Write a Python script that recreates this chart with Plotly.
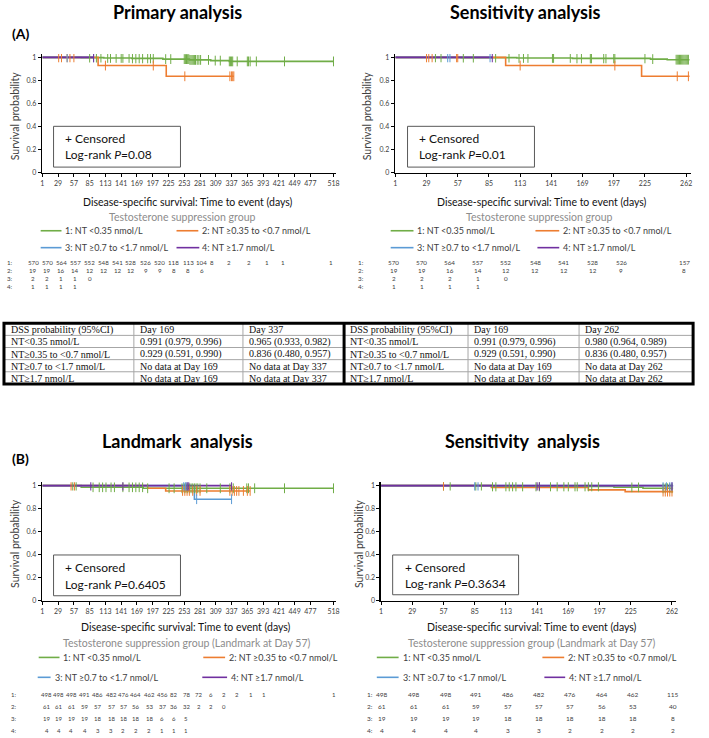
import plotly.graph_objects as go

W, H = 709, 738

# ---------------- DATA ----------------
x_ticks_long = [1, 29, 57, 85, 113, 141, 169, 197, 225, 253, 281, 309, 337, 365, 393, 421, 449, 477, 518]
x_ticks_short = [1, 29, 57, 85, 113, 141, 169, 197, 225, 262]
y_ticks = [0, 0.2, 0.4, 0.6, 0.8, 1]
y_tick_text = ["0", "0.2", "0.4", "0.6", "0.8", "1"]

group_names = ["1: NT <0.35 nmol/L", "2: NT \u22650.35 to <0.7 nmol/L",
               "3: NT \u22650.7 to <1.7 nmol/L", "4: NT \u22651.7 nmol/L"]
group_colors = ["#70AD47", "#ED7D31", "#5B9BD5", "#7030A0"]

# Panel (A) Primary analysis  - event times, survival after event, last follow-up, censor times
a1_g1_events = [70, 110, 160, 215, 262, 300, 333]
a1_g1_surv = [0.998, 0.995, 0.991, 0.985, 0.978, 0.972, 0.965]
a1_g1_end = 518
a1_g1_cens = [85, 97, 105, 117, 122, 132, 141, 144, 155, 161, 167, 173, 179, 188, 193, 198, 220, 229,
              253, 255, 257, 259, 261, 263, 265, 267, 269, 271, 273, 276, 279, 282, 296, 308, 317,
              333, 335, 337, 339, 347, 365, 367, 370, 381, 431, 518]
a1_g2_events = [100, 221]
a1_g2_surv = [0.929, 0.836]
a1_g2_end = 341
a1_g2_cens = [30, 35, 45, 50, 57, 113, 198, 254, 334, 337, 339, 341]
a1_g3_events = []
a1_g3_surv = []
a1_g3_end = 92
a1_g3_cens = [45, 92]
a1_g4_events = []
a1_g4_surv = []
a1_g4_end = 92
a1_g4_cens = [92]

# Panel (A) Sensitivity analysis
a2_g1_events = [60, 110, 160, 230, 245]
a2_g1_surv = [0.998, 0.995, 0.991, 0.985, 0.980]
a2_g1_end = 265
a2_g1_cens = [37, 42, 62, 71, 91, 103, 112, 116, 120, 142, 143, 158, 164, 168, 176, 177, 188, 190,
              197, 198, 225, 232, 253, 254, 255, 256, 257, 258, 259, 260, 261, 262, 263, 264]
a2_g2_events = [100, 222]
a2_g2_surv = [0.929, 0.836]
a2_g2_end = 265
a2_g2_cens = [29, 31, 34, 56, 57, 113, 198, 254, 264]
a2_g3_events = []
a2_g3_surv = []
a2_g3_end = 88
a2_g3_cens = [48, 50, 86]
a2_g4_events = []
a2_g4_surv = []
a2_g4_end = 88
a2_g4_cens = [88]

# Panel (B) Landmark analysis
b1_g1_events = [70, 180]
b1_g1_surv = [0.986, 0.977]
b1_g1_end = 518
b1_g1_cens = [55, 61, 91, 102, 108, 114, 123, 129, 144, 155, 161, 167, 173, 179, 188, 226, 235,
              249, 253, 256, 259, 262, 265, 268, 271, 274, 277, 281, 293, 317, 334, 340, 364, 367,
              378, 431, 518]
b1_g2_events = [188, 220]
b1_g2_surv = [0.977, 0.954]
b1_g2_end = 370
b1_g2_cens = [52, 58, 250, 254, 258, 262, 268, 275, 281, 334, 338, 342, 346, 350, 358, 365, 370]
b1_g3_events = [271]
b1_g3_surv = [0.882]
b1_g3_end = 337
b1_g3_cens = [252, 255, 258, 275, 337]
b1_g4_events = []
b1_g4_surv = []
b1_g4_end = 337
b1_g4_cens = [87, 144, 258, 261, 337]

# Panel (B) Sensitivity analysis
b2_g1_events = [100, 210, 236]
b2_g1_surv = [0.993, 0.986, 0.977]
b2_g1_end = 263
b2_g1_cens = [57, 63, 86, 91, 101, 104, 113, 116, 119, 122, 128, 140, 143, 153, 159, 165, 169, 175,
              177, 184, 187, 190, 196, 226, 232, 254, 256, 258, 260, 262]
b2_g2_events = [100, 187, 220]
b2_g2_surv = [0.984, 0.963, 0.948]
b2_g2_end = 263
b2_g2_cens = [57, 254, 256, 258, 260, 262]
b2_g3_events = []
b2_g3_surv = []
b2_g3_end = 263
b2_g3_cens = [85, 88, 254, 257, 260, 262]
b2_g4_events = []
b2_g4_surv = []
b2_g4_end = 263
b2_g4_cens = [141, 143, 262]

# Numbers at risk
a1_risk = [[570, 570, 564, 557, 552, 548, 541, 528, 526, 520, 118, 113, 104, 8, 2, 2, 1, 1, 1],
           [19, 19, 16, 14, 12, 12, 12, 12, 9, 9, 8, 8, 6],
           [2, 2, 1, 1, 0],
           [1, 1, 1, 1]]
a2_risk = [[570, 570, 564, 557, 552, 548, 541, 528, 526, 157],
           [19, 19, 16, 14, 12, 12, 12, 12, 9, 8],
           [2, 2, 2, 1, 0],
           [1, 1, 1, 1]]
b1_risk = [[498, 498, 498, 491, 486, 482, 476, 464, 462, 456, 82, 78, 72, 6, 2, 2, 1, 1, 1],
           [61, 61, 61, 59, 57, 57, 57, 56, 53, 37, 36, 32, 2, 2, 0],
           [19, 19, 19, 19, 18, 18, 18, 18, 18, 6, 6, 5],
           [4, 4, 4, 4, 3, 3, 2, 2, 2, 1, 1, 1]]
b2_risk = [[498, 498, 498, 491, 486, 482, 476, 464, 462, 115],
           [61, 61, 61, 59, 57, 57, 57, 56, 53, 40],
           [19, 19, 19, 19, 18, 18, 18, 18, 18, 8],
           [4, 4, 4, 4, 3, 3, 2, 2, 2, 2]]

# DSS probability tables
dss_row_labels = ["NT<0.35 nmol/L", "NT\u22650.35 to <0.7 nmol/L", "NT\u22650.7 to <1.7 nmol/L", "NT\u22651.7 nmol/L"]
dss_header_primary = ["DSS probability (95%CI)", "Day 169", "Day 337"]
dss_primary_d169 = ["0.991 (0.979, 0.996)", "0.929 (0.591, 0.990)", "No data at Day 169", "No data at Day 169"]
dss_primary_d337 = ["0.965 (0.933, 0.982)", "0.836 (0.480, 0.957)", "No data at Day 337", "No data at Day 337"]
dss_header_sens = ["DSS probability (95%CI)", "Day 169", "Day 262"]
dss_sens_d169 = ["0.991 (0.979, 0.996)", "0.929 (0.591, 0.990)", "No data at Day 169", "No data at Day 169"]
dss_sens_d262 = ["0.980 (0.964, 0.989)", "0.836 (0.480, 0.957)", "No data at Day 262", "No data at Day 262"]

# ---------------- LAYOUT HELPERS ----------------
def px(x):
    return x / W


def py(y):
    return 1 - y / H


FONT = "Lato"
DARK = "#404040"

fig = go.Figure()

panels = [
    dict(ax="", groups=[(a1_g1_events, a1_g1_surv, a1_g1_end, a1_g1_cens),
                        (a1_g2_events, a1_g2_surv, a1_g2_end, a1_g2_cens),
                        (a1_g3_events, a1_g3_surv, a1_g3_end, a1_g3_cens),
                        (a1_g4_events, a1_g4_surv, a1_g4_end, a1_g4_cens)],
         xpx=(40.7, 336.6), xr=[1, 522], ypx=(172.7, 53.2), ticks=x_ticks_long),
    dict(ax="2", groups=[(a2_g1_events, a2_g1_surv, a2_g1_end, a2_g1_cens),
                         (a2_g2_events, a2_g2_surv, a2_g2_end, a2_g2_cens),
                         (a2_g3_events, a2_g3_surv, a2_g3_end, a2_g3_cens),
                         (a2_g4_events, a2_g4_surv, a2_g4_end, a2_g4_cens)],
         xpx=(396.7, 694.5), xr=[1, 266], ypx=(172.7, 53.2), ticks=x_ticks_short),
    dict(ax="3", groups=[(b1_g1_events, b1_g1_surv, b1_g1_end, b1_g1_cens),
                         (b1_g2_events, b1_g2_surv, b1_g2_end, b1_g2_cens),
                         (b1_g3_events, b1_g3_surv, b1_g3_end, b1_g3_cens),
                         (b1_g4_events, b1_g4_surv, b1_g4_end, b1_g4_cens)],
         xpx=(40.7, 336.6), xr=[1, 522], ypx=(603.0, 483.8), ticks=x_ticks_long),
    dict(ax="4", groups=[(b2_g1_events, b2_g1_surv, b2_g1_end, b2_g1_cens),
                         (b2_g2_events, b2_g2_surv, b2_g2_end, b2_g2_cens),
                         (b2_g3_events, b2_g3_surv, b2_g3_end, b2_g3_cens),
                         (b2_g4_events, b2_g4_surv, b2_g4_end, b2_g4_cens)],
         xpx=(382.3, 680.2), xr=[1, 266], ypx=(603.0, 483.8), ticks=x_ticks_short),
]


def surv_at(t, events, surv):
    s = 1.0
    for et, sv in zip(events, surv):
        if et <= t:
            s = sv
    return s


layout_axes = {}
for p in panels:
    xa, ya = "x" + p["ax"], "y" + p["ax"]
    for gi, (ev, sv, end, cens) in enumerate(p["groups"]):
        xs = [1] + list(ev) + [end]
        ys = [1] + list(sv) + [sv[-1] if sv else 1]
        fig.add_trace(go.Scatter(x=xs, y=ys, mode="lines", line=dict(color=group_colors[gi], width=1.6, shape="hv"),
                                 xaxis=xa, yaxis=ya, hoverinfo="skip", showlegend=False))
    for gi, (ev, sv, end, cens) in enumerate(p["groups"]):
        fig.add_trace(go.Scatter(x=cens, y=[surv_at(t, ev, sv) for t in cens], mode="markers",
                                 marker=dict(symbol="line-ns", size=7, color=group_colors[gi],
                                             line=dict(color=group_colors[gi], width=1)),
                                 xaxis=xa, yaxis=ya, hoverinfo="skip", showlegend=False))
    layout_axes["xaxis" + p["ax"]] = dict(
        domain=[px(p["xpx"][0]), px(p["xpx"][1])], range=p["xr"], anchor=ya,
        tickvals=p["ticks"], ticktext=[str(t) for t in p["ticks"]],
        showline=True, linecolor="#000", linewidth=1.6, ticks="outside", ticklen=3, tickcolor="#000",
        tickfont=dict(family=FONT, size=7, color=DARK), showgrid=False, zeroline=False, fixedrange=True)
    layout_axes["yaxis" + p["ax"]] = dict(
        domain=[py(p["ypx"][0]), py(p["ypx"][1])], range=[0, 1.03], anchor=xa,
        tickvals=y_ticks, ticktext=y_tick_text,
        showline=True, linecolor="#000", linewidth=1.6, ticks="outside", ticklen=3, tickcolor="#000",
        tickfont=dict(family=FONT, size=7, color=DARK), showgrid=False, zeroline=False, fixedrange=True)

shapes = []
annotations = []


def ann(text, x, y, size, color="#000", xanchor="center", bold=False, family=FONT, angle=0):
    annotations.append(dict(text=("<b>%s</b>" % text) if bold else text, x=px(x), y=py(y),
                            xref="paper", yref="paper", xanchor=xanchor, yanchor="middle",
                            showarrow=False, textangle=angle, font=dict(family=family, size=size, color=color)))


def hline(x0, x1, y, color, width):
    shapes.append(dict(type="line", xref="paper", yref="paper", x0=px(x0), x1=px(x1), y0=py(y), y1=py(y),
                       line=dict(color=color, width=width)))


def vline(x, y0, y1, color, width):
    shapes.append(dict(type="line", xref="paper", yref="paper", x0=px(x), x1=px(x), y0=py(y0), y1=py(y1),
                       line=dict(color=color, width=width)))


# ---------------- DSS TABLES (built from the table lists) ----------------
TBL_TOP, TBL_BOT = 324, 385
row_h = (TBL_BOT - TBL_TOP) / 5
GRID = "#a6a6a6"
for hdr, c2, c3, cols in [
        (dss_header_primary, dss_primary_d169, dss_primary_d337, [3, 133, 243, 345]),
        (dss_header_sens, dss_sens_d169, dss_sens_d262, [345, 470, 582, 696])]:
    table_cols = [[hdr[0]] + dss_row_labels, [hdr[1]] + c2, [hdr[2]] + c3]
    for r in range(1, 5):
        hline(cols[0], cols[3], TBL_TOP + r * row_h, GRID, 1)
    for c in (cols[1], cols[2]):
        vline(c, TBL_TOP, TBL_BOT, GRID, 1)
    for ci, col in enumerate(table_cols):
        for ri, txt in enumerate(col):
            ann(txt, cols[ci] + 4, TBL_TOP + (ri + 0.5) * row_h + 0.5, 10, "#111", xanchor="left",
                family="Liberation Serif")

shapes.append(dict(type="rect", xref="paper", yref="paper", x0=px(2), x1=px(697), y0=py(TBL_TOP), y1=py(TBL_BOT),
                   line=dict(color="#000", width=3)))
vline(345, TBL_TOP, TBL_BOT, "#000", 3)

# Panel texts
panel_text = [
    dict(title="Primary analysis", tx=177, ty=11, ytx=13, yty=115, xtx=188, xty=202,
         grp="Testosterone suppression group", gx=182, gy=217,
         leg=[(39, 60, 62, 231), (176, 198, 200, 231), (39, 60, 62, 248), (176, 199, 200, 248)],
         rlab=3, rx=[31.7, 45.7, 60, 74, 88.7, 102.7, 116.7, 129.7, 145, 159, 173, 187.7, 201.7,
                     212, 229, 249, 267, 283, 332],
         ry=[263, 271, 279, 287], risk=a1_risk, rfs=6.2, box=(52, 180, 126, 167), boxtx=62, boxty=(138, 154),
         p="0.08"),
    dict(title="Sensitivity analysis", tx=528, ty=11, ytx=368, yty=115, xtx=545, xty=202,
         grp="Testosterone suppression group", gx=542, gy=217,
         leg=[(392, 415, 417, 231), (538, 562, 564, 231), (392, 415, 417, 248), (540, 562, 564, 248)],
         rlab=357, rx=[395, 423.3, 451.7, 480, 508.3, 537.7, 566.7, 595.7, 624.3, 688.3],
         ry=[263, 271, 279, 287], risk=a2_risk, rfs=6.3, box=(409, 537, 126, 167), boxtx=419, boxty=(138, 154),
         p="0.01"),
    dict(title="Landmark\u00a0 analysis", tx=177, ty=442, ytx=13, yty=545, xtx=186, xty=629,
         grp="Testosterone suppression group (Landmark at Day 57)", gx=186, gy=646,
         leg=[(37, 58, 60, 660), (203, 225, 227, 660), (36, 49, 51, 680), (202, 227, 229, 680)],
         rlab=7, rx=[45, 57.3, 70, 83.3, 96.7, 110, 122.3, 135, 148.3, 161.7, 173.3, 186, 198.3, 211,
                     224, 237.3, 250.7, 264, 335],
         ry=[697, 709, 721, 733], risk=b1_risk, rfs=6.0, box=(52, 180, 557, 598), boxtx=62, boxty=(570, 587),
         p="0.6405"),
    dict(title="Sensitivity\u00a0 analysis", tx=525, ty=442, ytx=360, yty=545, xtx=535, xty=629,
         grp="Testosterone suppression group (Landmark at Day 57)", gx=534, gy=646,
         leg=[(378, 400, 402, 660), (545, 567, 569, 660), (378, 400, 402, 680), (547, 568, 570, 680)],
         rlab=366, rx=[383.3, 416, 447.7, 477.7, 510, 541.7, 573.3, 605, 636.7, 676.7],
         ry=[697, 709, 721, 733], risk=b2_risk, rfs=6.5, box=(394, 521, 557, 597), boxtx=404, boxty=(570, 586),
         p="0.3634"),
]

for t in panel_text:
    ann(t["title"], t["tx"], t["ty"], 18, "#000", bold=True)
    ann("Survival probability", t["ytx"], t["yty"], 10.5, DARK, angle=-90)
    ann("Disease-specific survival: Time to event (days)", t["xtx"], t["xty"], 10.5, "#111")
    ann(t["grp"], t["gx"], t["gy"], 10.5, "#8c8c8c")
    for gi, (lx0, lx1, tx, ly) in enumerate(t["leg"]):
        hline(lx0, lx1, ly, group_colors[gi], 1.6)
        ann(group_names[gi], tx, ly, 9, DARK, xanchor="left")
    for gi, row in enumerate(t["risk"]):
        ann("%d:" % (gi + 1), t["rlab"], t["ry"][gi], t["rfs"], DARK, xanchor="left")
        for j, v in enumerate(row):
            ann(str(v), t["rx"][j], t["ry"][gi], t["rfs"], DARK)
    bx0, bx1, by0, by1 = t["box"]
    shapes.append(dict(type="rect", xref="paper", yref="paper", x0=px(bx0), x1=px(bx1), y0=py(by1), y1=py(by0),
                       line=dict(color="#595959", width=1), fillcolor="white", layer="above"))
    ann("+ Censored", t["boxtx"], t["boxty"][0], 12, "#111", xanchor="left")
    ann("Log-rank <i>P</i>=%s" % t["p"], t["boxtx"], t["boxty"][1], 12, "#111", xanchor="left")

ann("(A)", 8, 33, 14, "#000", xanchor="left", bold=True)
ann("(B)", 8, 460, 14, "#000", xanchor="left", bold=True)

fig.update_layout(width=W, height=H, margin=dict(l=0, r=0, t=0, b=0), autosize=False,
                  paper_bgcolor="white", plot_bgcolor="white", showlegend=False, hovermode=False,
                  shapes=shapes, annotations=annotations, **layout_axes)

fig.write_html("out.html", config={"displayModeBar": False, "staticPlot": True},
               post_script="document.body.style.margin='0px';")
